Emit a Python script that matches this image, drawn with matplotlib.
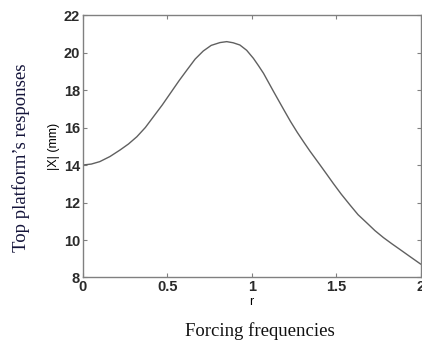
import matplotlib
matplotlib.use("Agg")
import matplotlib.pyplot as plt

# values
r = [0.0, 0.05, 0.10, 0.16, 0.22, 0.27, 0.32, 0.37, 0.42, 0.47, 0.52, 0.57, 0.615,
     0.665, 0.713, 0.76, 0.812, 0.852, 0.89, 0.93, 0.97, 1.01, 1.04, 1.07, 1.10,
     1.13, 1.16, 1.19, 1.23, 1.27, 1.31, 1.345, 1.405, 1.445, 1.483, 1.53, 1.582,
     1.63, 1.681, 1.73, 1.78, 1.83, 1.879, 1.94, 2.0]
X = [14.0, 14.05, 14.18, 14.45, 14.8, 15.12, 15.51, 16.0, 16.6, 17.2, 17.85, 18.5, 19.05,
     19.65, 20.08, 20.38, 20.53, 20.58, 20.52, 20.4, 20.12, 19.69, 19.3, 18.89, 18.4,
     17.91, 17.43, 16.95, 16.32, 15.74, 15.2, 14.74, 14.0, 13.5, 13.02, 12.45, 11.87,
     11.35, 10.92, 10.5, 10.13, 9.8, 9.49, 9.1, 8.72]

xticks = [0, 0.5, 1, 1.5, 2]
xticklabels = ["0", "0.5", "1", "1.5", "2"]
yticks = [8, 10, 12, 14, 16, 18, 20, 22]

fig = plt.figure(figsize=(4.22, 3.42), dpi=100)
ax = fig.add_axes([0.1964, 0.1886, 0.8001, 0.7675])

ax.plot(r, X, color="#606060", linewidth=1.0)

ax.set_xlim(0, 2)
ax.set_ylim(8, 22)
ax.set_xticks(xticks)
ax.set_xticklabels(xticklabels)
ax.set_yticks(yticks)

for s in ax.spines.values():
    s.set_color("#808080")
    s.set_linewidth(1.0)

ax.tick_params(direction="in", top=True, right=True, length=3, width=0.8,
               color="#808080", labelsize=10.5, labelcolor="#2a2a2a", pad=2)
for lab in ax.get_xticklabels() + ax.get_yticklabels():
    lab.set_family("Liberation Sans")
    lab.set_weight("bold")

ax.set_xlabel("r", fontsize=9, family="Liberation Sans", labelpad=1)
ax.set_ylabel("|X| (mm)", fontsize=9, family="Liberation Sans", labelpad=3)

fig.text(0.617, 0.033, "Forcing frequencies", family="Liberation Serif",
         fontsize=13.5, ha="center", va="center", color="#111111")
fig.text(0.05, 0.54, "Top platform\u2019s responses", family="Liberation Serif",
         fontsize=13.5, ha="center", va="center", rotation=90, color="#14143a")

fig.savefig("out.png", dpi=100)
